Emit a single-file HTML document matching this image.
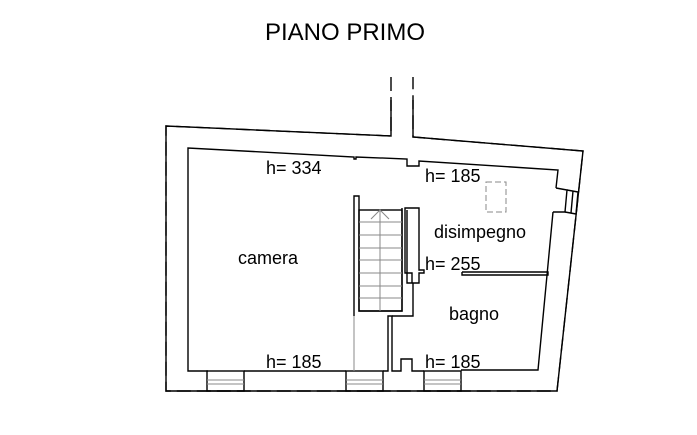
<!DOCTYPE html>
<html><head><style>body{margin:0;background:#fff}svg{display:block}</style></head><body>
<svg width="697" height="435" viewBox="0 0 697 435" xmlns="http://www.w3.org/2000/svg" font-family="Liberation Sans, Arial, sans-serif">
<rect width="697" height="435" fill="#fff"/>
<text x="345" y="40" font-size="24" text-anchor="middle">PIANO PRIMO</text>
<g fill="none" stroke="#000" stroke-width="1.4">
<polyline points="391,77 391,136 166,126 166,391 557,391 583,151 413,137 413,77" stroke-dasharray="14,6"/>
<polyline points="391,100 391,136 166,126 166,391 557,391 583,151 413,137 413,100"/>
<polyline points="208,371 188,371 188,148 354,157 354,159 356,159 356,157 407,159 407,166 419,166 419,161 558,170 556,188"/>
<polyline points="553,212 538,370 461,370"/>
<polyline points="244,371 346,371"/>
<polyline points="383,371 388,371 388,316 392,316 392,371 401,371 401,359 412,359 412,371 424,371"/>
<polyline points="556,188 567,190 565,212 553,212"/>
<polyline points="567,190 578,192 576,214 565,212"/>
<line x1="573" y1="191" x2="571" y2="213"/>
<polyline points="354,316 354,196 359,196 359,311 402,311 402,208"/>
<polyline points="392,316 413,316 413,283 419,283 419,273 424,273 424,270 419,270 419,208 405,208 405,273 412,273 412,283 407,283 407,210"/>
<rect x="359" y="210" width="43" height="101"/>
<polyline points="462,272 548,272 548,275 462,275 462,272"/>
<rect x="207" y="371" width="37" height="20"/>
<rect x="346" y="371" width="37" height="20"/>
<rect x="424" y="371" width="37" height="20"/>
</g>
<g stroke="#888" stroke-width="1" fill="none">
<line x1="207" y1="380" x2="244" y2="380"/><line x1="207" y1="384" x2="244" y2="384"/>
<line x1="346" y1="380" x2="383" y2="380"/><line x1="346" y1="384" x2="383" y2="384"/>
<line x1="424" y1="380" x2="461" y2="380"/><line x1="424" y1="384" x2="461" y2="384"/>
<line x1="354" y1="316" x2="354" y2="371"/>
<line x1="380" y1="210" x2="380" y2="311"/>
<line x1="359" y1="222" x2="402" y2="222"/><line x1="359" y1="235" x2="402" y2="235"/>
<line x1="359" y1="248" x2="402" y2="248"/><line x1="359" y1="260" x2="402" y2="260"/>
<line x1="359" y1="273" x2="402" y2="273"/><line x1="359" y1="286" x2="402" y2="286"/>
<line x1="359" y1="298" x2="402" y2="298"/>
<polyline points="371,219 380,210 389,219"/>
<rect x="486" y="182" width="20" height="30" stroke-dasharray="6,3"/>
</g>
<g font-size="18" fill="#000">
<text x="266" y="174">h= 334</text>
<text x="425" y="182">h= 185</text>
<text x="434" y="238">disimpegno</text>
<text x="238" y="264">camera</text>
<text x="425" y="270">h= 255</text>
<text x="449" y="320">bagno</text>
<text x="266" y="368">h= 185</text>
<text x="425" y="368">h= 185</text>
</g>
</svg>
</body></html>
